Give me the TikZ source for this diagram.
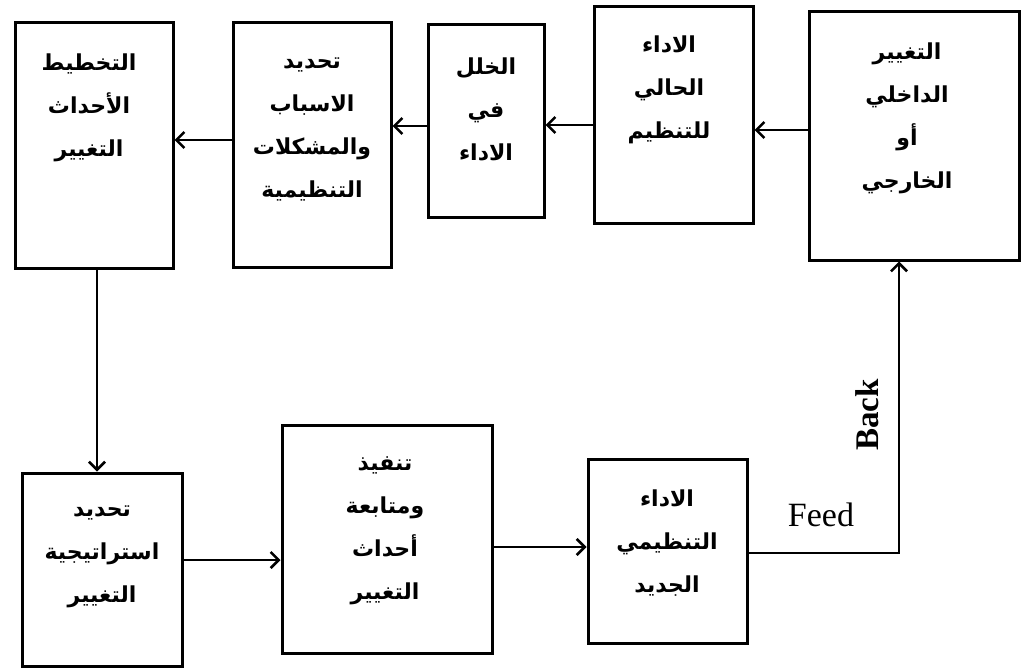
\documentclass[tikz,border=0pt]{standalone}
\usepackage{fontspec}
\setmainfont{Liberation Serif}
\newfontfamily\arabicfont[Script=Arabic]{DejaVu Sans}
\TeXXeTstate=1
\usetikzlibrary{arrows.meta,fit}
\newcommand{\ar}[1]{\beginR #1\endR}
\begin{document}
\begin{tikzpicture}[x=1pt,y=-1pt,
  box/.style={draw, line width=3pt, inner sep=0pt},
  atext/.style={align=center, font=\arabicfont\bfseries\fontsize{22}{43}\selectfont, inner sep=0pt},
  arr/.style={line width=2.6pt, -{Straight Barb[length=8pt,width=16pt,line width=2.6pt]}}]
\useasboundingbox (0,0) rectangle (1026,669);

% top row of boxes
\node[box, fit={(15,23) (173,268)}] (A) {};
\node[box, fit={(233,23) (391,267)}] (B) {};
\node[box, fit={(428,25) (544,217)}] (C) {};
\node[box, fit={(594,7) (753,223)}] (D) {};
\node[box, fit={(809,12) (1019,260)}] (E) {};
% bottom row of boxes
\node[box, fit={(22,473) (182,666)}] (F) {};
\node[box, fit={(282,425) (492,653)}] (G) {};
\node[box, fit={(588,459) (747,643)}] (H) {};

% box texts
\node[atext] (At) at (89,108) {\ar{التخطيط}\\\ar{الأحداث}\\\ar{التغيير}};
\node[atext] (Bt) at (312,129) {\ar{تحديد}\\\ar{الاسباب}\\\ar{والمشكلات}\\\ar{التنظيمية}};
\node[atext] (Ct) at (486,109) {\ar{الخلل}\\\ar{في}\\\ar{الاداء}};
\node[atext] (Dt) at (669,90) {\ar{الاداء}\\\ar{الحالي}\\\ar{للتنظيم}};
\node[atext] (Et) at (907,118) {\ar{التغيير}\\\ar{الداخلي}\\\ar{أو}\\\ar{الخارجي}};
\node[atext] (Ft) at (102,557) {\ar{تحديد}\\\ar{استراتيجية}\\\ar{التغيير}};
\node[atext] (Gt) at (385,531) {\ar{تنفيذ}\\\ar{ومتابعة}\\\ar{أحداث}\\\ar{التغيير}};
\node[atext] (Ht) at (667,543) {\ar{الاداء}\\\ar{التنظيمي}\\\ar{الجديد}};

% connectors
\draw[arr] (E.west |- 0,130) -- (D.east |- 0,130);
\draw[arr] (D.west |- 0,125) -- (C.east |- 0,125);
\draw[arr] (C.west |- 0,126) -- (B.east |- 0,126);
\draw[arr] (B.west |- 0,140) -- (A.east |- 0,140);
\draw[arr] (A.south -| 97,0) -- (F.north -| 97,0);
\draw[arr] (F.east |- 0,560) -- (G.west |- 0,560);
\draw[arr] (G.east |- 0,547) -- (H.west |- 0,547);
\draw[arr] (H.east |- 0,553) -| (E.south -| 899,0);

% feedback labels
\node[font=\fontsize{34}{36}\selectfont, inner sep=0pt] (feed) at (821,515) {Feed};
\node[font=\bfseries\fontsize{33}{36}\selectfont, inner sep=0pt, rotate=90] (back) at (867,415) {Back};
\end{tikzpicture}
\end{document}
